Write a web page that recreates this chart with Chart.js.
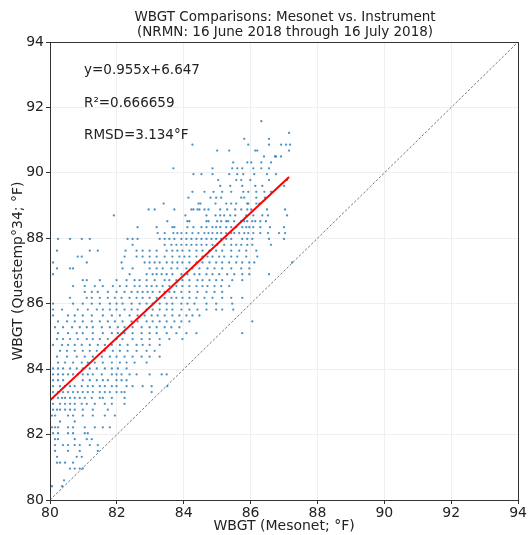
<!DOCTYPE html>
<html>
<head>
<meta charset="utf-8">
<script src="https://cdn.jsdelivr.net/npm/chart.js@4/dist/chart.umd.min.js"></script>
<style>
html,body{margin:0;padding:0;background:#fff;}
#wrap{width:528px;height:535px;position:relative;}
</style>
</head>
<body>
<div id="wrap"><canvas id="c" width="528" height="535"></canvas></div>
<script>
// ---- Data ----
const titleLines = ["WBGT Comparisons: Mesonet vs. Instrument", "(NRMN: 16 June 2018 through 16 July 2018)"];
const xAxisTitle = "WBGT (Mesonet; °F)";
const yAxisTitle = "WBGT (Questemp°34; °F)";
const statLines = ["y=0.955x+6.647", "R²=0.666659", "RMSD=3.134°F"];
const axisMin = 80, axisMax = 94, tickStep = 2;
const fitSlope = 0.955, fitIntercept = 6.647;
const fitXRange = [80, 87.15];
const identityRange = [80, 94];

// Questemp readings come in discrete levels; Mesonet x-values observed on each level
const questempLevels = [91.58, 91.22, 91.04, 90.86, 90.68, 90.50, 90.32, 90.14, 89.96, 89.78, 89.60, 89.42, 89.24, 89.06, 88.88, 88.70, 88.52, 88.34, 88.16, 87.98, 87.80, 87.62, 87.44, 87.26, 87.08, 86.90, 86.72, 86.54, 86.36, 86.18, 86.00, 85.82, 85.64, 85.46, 85.28, 85.10, 84.92, 84.74, 84.56, 84.38, 84.20, 84.02, 83.84, 83.66, 83.48, 83.30, 83.12, 82.94, 82.76, 82.58, 82.40, 82.22, 82.04, 81.86, 81.68, 81.50, 81.32, 81.14, 80.96, 80.60, 80.42];
const mesonetByLevel = [
 [86.32],
 [87.15],
 [85.81, 86.55],
 [84.26, 85.93, 86.55, 86.91, 87.06, 87.18],
 [85.0, 85.36, 86.14, 86.2, 87.15],
 [86.4, 86.73, 86.76, 86.91],
 [85.48, 85.9, 86.02, 86.32, 86.61],
 [83.69, 84.86, 85.45, 85.6, 85.75, 86.08, 86.32, 86.55],
 [84.29, 84.53, 84.86, 85.36, 85.6, 85.78, 86.11, 86.49, 86.76],
 [85.03, 85.57, 85.72, 85.99, 86.55, 87.09],
 [85.09, 85.39, 85.75, 86.14, 86.35, 87.0],
 [84.26, 84.62, 84.89, 85.15, 85.42, 85.78, 85.93, 86.17, 86.41, 86.61],
 [84.14, 84.8, 84.97, 85.12, 85.72, 85.81, 86.17, 86.43],
 [83.4, 84.44, 84.5, 84.95, 85.27, 85.42, 85.57, 85.9, 85.93, 86.17, 86.26],
 [82.95, 83.13, 83.72, 84.23, 84.29, 84.41, 84.47, 84.62, 84.74, 85.09, 85.3, 85.54, 85.72, 85.9, 86.02, 86.49, 87.03],
 [81.91, 84.05, 84.68, 84.95, 85.09, 85.21, 85.39, 85.54, 85.87, 86.08, 86.35, 86.52, 87.09],
 [83.51, 84.11, 84.17, 84.68, 84.74, 85.0, 85.12, 85.27, 85.33, 85.51, 85.72, 85.81, 85.9, 86.05, 86.14, 86.29, 86.46],
 [82.62, 83.19, 83.66, 83.72, 84.11, 84.29, 84.53, 84.68, 84.86, 84.97, 85.09, 85.27, 85.42, 85.57, 85.75, 85.87, 85.96, 86.08, 86.29, 86.58, 87.0],
 [83.22, 83.43, 83.69, 83.81, 83.93, 84.08, 84.26, 84.44, 84.62, 84.74, 84.86, 85.0, 85.12, 85.27, 85.42, 85.51, 85.66, 85.81, 85.93, 86.08, 86.29, 86.52, 86.85, 87.03],
 [80.24, 80.6, 80.95, 81.19, 82.32, 82.47, 82.62, 83.28, 83.43, 83.57, 83.72, 83.93, 84.08, 84.23, 84.38, 84.53, 84.68, 84.83, 84.97, 85.12, 85.27, 85.42, 85.75, 85.9, 86.05, 86.55, 87.0],
 [82.47, 83.43, 83.63, 83.78, 83.93, 84.08, 84.23, 84.38, 84.53, 84.68, 84.86, 85.0, 85.21, 85.42, 85.57, 85.72, 85.9, 86.05, 86.61],
 [80.21, 81.19, 81.43, 82.26, 82.59, 82.77, 82.98, 83.19, 83.49, 83.66, 83.81, 83.96, 84.17, 84.38, 84.56, 84.77, 84.97, 85.15, 85.42, 85.66, 85.87, 86.17],
 [80.83, 80.95, 82.23, 82.59, 82.77, 82.98, 83.19, 83.43, 83.66, 83.87, 84.02, 84.17, 84.38, 84.56, 84.71, 84.86, 85.06, 85.21, 85.42, 85.6, 85.87, 86.2],
 [80.09, 81.1, 82.14, 82.83, 82.98, 83.13, 83.28, 83.49, 83.66, 83.81, 83.96, 84.17, 84.38, 84.56, 84.77, 84.97, 85.15, 85.36, 85.57, 85.75, 85.96, 86.11, 87.24],
 [80.21, 80.6, 80.69, 82.17, 82.47, 82.98, 83.19, 83.37, 83.63, 83.81, 84.08, 84.26, 84.47, 84.71, 84.92, 85.15, 85.42, 85.72, 85.96],
 [80.09, 82.38, 82.89, 83.07, 83.19, 83.34, 83.49, 83.66, 83.93, 84.11, 84.32, 84.47, 84.68, 84.86, 85.06, 85.3, 85.51, 85.75, 85.96, 86.55],
 [80.98, 81.1, 81.49, 81.99, 82.29, 82.53, 82.68, 82.89, 83.13, 83.43, 83.57, 83.78, 83.96, 84.17, 84.41, 84.56, 84.77, 84.97, 85.15, 85.45, 85.75],
 [80.69, 81.04, 81.34, 81.58, 81.88, 82.09, 82.29, 82.53, 82.68, 82.89, 83.04, 83.19, 83.37, 83.57, 83.78, 83.96, 84.17, 84.38, 84.56, 84.71, 84.92, 85.12, 85.36],
 [81.04, 81.25, 81.43, 81.73, 81.99, 82.23, 82.44, 82.62, 82.77, 82.92, 83.07, 83.28, 83.43, 83.57, 83.72, 83.93, 84.17, 84.41, 84.68, 84.92, 85.15],
 [80.6, 81.1, 81.25, 81.49, 81.73, 81.94, 82.14, 82.38, 82.59, 82.77, 82.98, 83.19, 83.43, 83.63, 83.78, 83.96, 84.17, 84.38, 84.62, 84.86, 85.15, 85.42, 85.75],
 [80.09, 80.69, 80.98, 81.25, 81.49, 81.79, 81.99, 82.17, 82.44, 82.68, 82.89, 83.07, 83.28, 83.49, 83.66, 83.93, 84.11, 84.32, 84.68, 84.97, 85.45],
 [80.09, 80.36, 80.83, 81.13, 81.4, 81.58, 81.79, 81.99, 82.23, 82.44, 82.62, 82.89, 83.07, 83.28, 83.49, 83.66, 83.93, 84.17, 84.41, 84.68, 84.97, 85.15, 85.48],
 [80.09, 80.54, 80.74, 80.98, 81.25, 81.58, 81.85, 82.09, 82.38, 82.62, 82.83, 83.04, 83.22, 83.43, 83.66, 83.87, 84.08, 84.26, 84.47],
 [80.24, 80.51, 80.74, 80.98, 81.25, 81.49, 81.73, 81.94, 82.17, 82.44, 82.62, 82.89, 83.07, 83.28, 83.49, 83.72, 83.93, 84.17, 86.05],
 [80.15, 80.39, 80.66, 80.89, 81.1, 81.28, 81.55, 81.79, 82.03, 82.23, 82.47, 82.74, 82.98, 83.19, 83.43, 83.63, 83.87],
 [80.24, 80.54, 80.8, 80.98, 81.28, 81.58, 81.85, 82.03, 82.23, 82.47, 82.74, 82.98, 83.19, 83.49, 83.78, 84.08, 84.38, 85.75],
 [80.21, 80.39, 80.6, 80.83, 81.1, 81.28, 81.49, 81.73, 81.99, 82.17, 82.47, 82.74, 82.98, 83.28, 83.57, 83.96],
 [80.09, 80.36, 80.54, 80.74, 80.95, 81.19, 81.43, 81.64, 81.85, 82.09, 82.32, 82.59, 82.77, 82.98, 83.28],
 [80.3, 80.51, 80.74, 80.98, 81.19, 81.4, 81.64, 81.88, 82.09, 82.32, 82.59, 82.89, 83.13],
 [80.21, 80.51, 80.8, 81.04, 81.28, 81.55, 81.79, 81.99, 82.23, 82.47, 82.74, 82.98, 83.28],
 [80.24, 80.45, 80.69, 80.95, 81.13, 81.34, 81.58, 81.85, 82.09, 82.29, 82.53, 82.89],
 [80.09, 80.24, 80.39, 80.6, 80.8, 80.98, 81.19, 81.4, 81.64, 81.85, 82.03, 82.29],
 [80.09, 80.24, 80.39, 80.54, 80.69, 80.83, 80.98, 81.13, 81.28, 81.55, 81.85, 81.99, 82.14, 82.38, 82.59, 82.98, 83.34, 83.49],
 [80.09, 80.24, 80.39, 80.98, 81.19, 81.4, 81.58, 81.73, 81.99, 82.14, 82.29],
 [80.09, 80.3, 80.45, 80.6, 80.74, 80.95, 81.13, 81.28, 81.49, 81.64, 81.85, 81.99, 82.29, 82.47, 82.77, 83.04, 83.51],
 [80.09, 80.24, 80.39, 80.54, 80.69, 80.83, 80.98, 81.13, 81.28, 81.49, 81.64, 81.79, 81.99, 82.14, 82.23, 83.04],
 [80.09, 80.24, 80.36, 80.45, 80.6, 80.74, 80.89, 81.04, 81.25, 81.49, 81.58, 81.85, 82.23],
 [80.09, 80.3, 80.45, 80.6, 80.74, 80.95, 81.1, 81.34, 81.64, 81.85, 82.23],
 [80.09, 80.21, 80.3, 80.45, 80.6, 80.74, 80.98, 81.28, 81.73],
 [80.06, 80.15, 80.54, 80.69, 80.98, 81.28, 81.64, 81.94],
 [80.3, 80.74],
 [80.06, 80.15, 80.24, 80.54, 80.69, 81.04, 81.34, 81.58, 81.79],
 [80.09, 80.24, 80.54, 80.69, 81.04, 81.13],
 [80.15, 80.24, 80.74, 81.1, 81.25],
 [80.15, 80.39, 80.54, 80.74, 80.89, 81.19, 81.43],
 [80.15, 80.54, 80.89, 81.43],
 [80.21, 80.8, 80.95],
 [80.21, 80.3, 80.45, 80.69],
 [80.6, 80.74, 80.89, 80.98],
 [80.42],
 [80.06, 80.36]
];

// ---- Build library datasets from the arrays ----
const scatterPts = [];
questempLevels.forEach((y, i) => mesonetByLevel[i].forEach(x => scatterPts.push({x: x, y: y})));
const fitPts = fitXRange.map(x => ({x: x, y: fitSlope * x + fitIntercept}));
const identityPts = identityRange.map(v => ({x: v, y: v}));

const FONT = "'DejaVu Sans', sans-serif";
const TXT = '#222';

const decor = {
  id: 'decor',
  afterDraw(chart) {
    const {ctx, chartArea: a} = chart;
    ctx.save();
    // full frame (spines)
    ctx.strokeStyle = '#333';
    ctx.lineWidth = 1;
    ctx.strokeRect(Math.round(a.left) + 0.5, Math.round(a.top) + 0.5, Math.round(a.right - a.left), Math.round(a.bottom - a.top));
    // title
    ctx.fillStyle = TXT;
    ctx.font = '13.5px ' + FONT;
    ctx.textAlign = 'center';
    ctx.textBaseline = 'middle';
    const cx = (a.left + a.right) / 2 + 1;
    ctx.fillText(titleLines[0], cx, 17);
    ctx.fillText(titleLines[1], cx, 32);
    // stats annotation
    ctx.textAlign = 'left';
    ctx.font = '13.5px ' + FONT;
    const sx = a.left + 34;
    ctx.fillText(statLines[0], sx, 70);
    ctx.fillText(statLines[1], sx, 103);
    ctx.fillText(statLines[2], sx, 135);
    ctx.restore();
  }
};

new Chart(document.getElementById('c'), {
  type: 'scatter',
  data: {
    datasets: [
      {
        label: 'fit', data: fitPts, showLine: true, order: 0,
        borderColor: '#ff0000', borderWidth: 2, pointRadius: 0, fill: false
      },
      {
        label: 'obs', data: scatterPts, order: 1,
        pointRadius: 1.15, pointBorderWidth: 0,
        backgroundColor: 'rgba(31,119,180,0.8)', borderColor: 'rgba(31,119,180,0.8)'
      },
      {
        label: '1:1', data: identityPts, showLine: true, order: 2,
        borderColor: 'rgba(95,95,95,0.85)', borderWidth: 1, borderDash: [2.5, 1.8],
        pointRadius: 0, fill: false
      }
    ]
  },
  options: {
    responsive: false,
    animation: false,
    layout: {padding: {top: 42, right: 8, left: 0, bottom: 0}},
    plugins: {legend: {display: false}, tooltip: {enabled: false}, title: {display: false}},
    scales: {
      x: {
        type: 'linear', min: axisMin, max: axisMax,
        afterFit(s) { s.height = 35; },
        ticks: {stepSize: tickStep, color: TXT, font: {family: FONT, size: 14}, padding: 1, maxRotation: 0},
        grid: {color: '#efefef', lineWidth: 1, drawTicks: true, tickLength: 4, tickColor: '#333'},
        border: {display: true, color: '#333', width: 1},
        title: {display: true, text: xAxisTitle, color: TXT, font: {family: FONT, size: 14}, padding: {top: 0, bottom: 0}}
      },
      y: {
        type: 'linear', min: axisMin, max: axisMax,
        afterFit(s) { s.width = 50; },
        ticks: {stepSize: tickStep, color: TXT, font: {family: FONT, size: 14}, padding: 2},
        grid: {color: '#efefef', lineWidth: 1, drawTicks: true, tickLength: 4, tickColor: '#333'},
        border: {display: true, color: '#333', width: 1},
        title: {display: true, text: yAxisTitle, color: TXT, font: {family: FONT, size: 14}, padding: {top: 10, bottom: 0}}
      }
    }
  },
  plugins: [decor]
});
</script>
</body>
</html>
